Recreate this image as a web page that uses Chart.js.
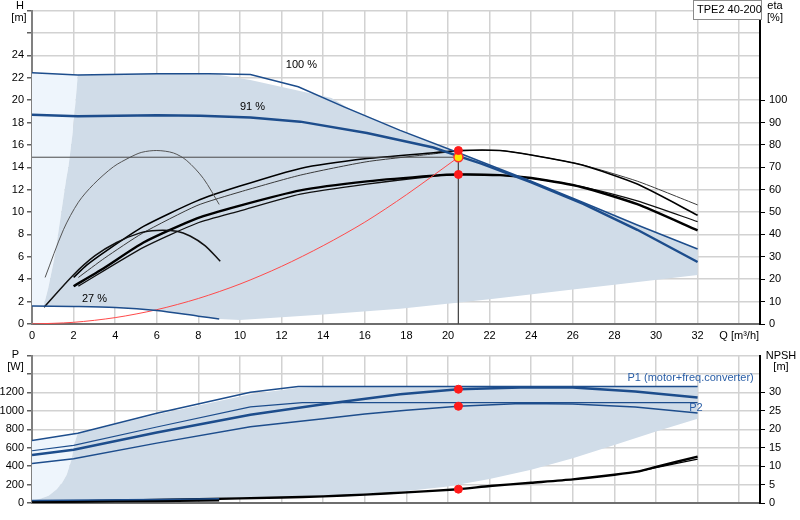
<!DOCTYPE html>
<html lang="en">
<head>
<meta charset="UTF-8">
<title>TPE2 40-200 pump curves</title>
<script src="https://cdn.jsdelivr.net/npm/chart.js"></script>
<style>
  body { margin: 0; background: #fff; }
  #wrap { position: relative; width: 800px; height: 520px; }
  canvas { position: absolute; left: 0; }
  #top { top: 0; }
  #bottom { top: 345px; }
</style>
</head>
<body>
<div id="wrap">
  <canvas id="top" width="800" height="345"></canvas>
  <canvas id="bottom" width="800" height="175"></canvas>
</div>
<script>
// ---- head curves (Q in m3/h, H in m) ----
const qH100 = [0, 2.2, 6, 8.5, 10.5, 12.8, 15, 17.7, 20.5, 21.6, 24, 26.5, 29.1, 32];
const hH100 = [22.45, 22.25, 22.35, 22.35, 22.3, 21.2, 19.4, 17.3, 15.3, 14.5, 12.75, 10.85, 8.85, 6.7];
const qH91 = [0, 2.2, 6, 8.1, 10.5, 12.9, 16.1, 19.3, 20.5, 21.6, 24, 26.5, 29.1, 32];
const hH91 = [18.7, 18.55, 18.65, 18.6, 18.45, 18.08, 17.07, 15.77, 15.0, 14.33, 12.66, 10.73, 8.42, 5.54];
const qH27 = [0, 2, 4, 6, 8, 9];
const hH27 = [1.6, 1.57, 1.48, 1.2, 0.7, 0.45];

// operating range (shaded) and the lighter strip at low flow
const qRange = [0.55, 0.78, 1.1, 1.45, 1.65, 1.75, 1.95, 2.1, 2.2, 6, 8.9, 10.5, 14.4, 15.2, 17.7, 20.5, 21.6, 24, 26.5, 29.1, 32,
                32, 28, 26, 22, 17.7, 14, 10, 9, 8, 6, 4, 2, 0.55];
const hRange = [1.55, 3.2, 6.1, 10.5, 13, 14, 17, 20, 22.25, 22.35, 22.3, 21.8, 20.2, 19.3, 17.3, 15.3, 14.5, 12.75, 10.85, 8.85, 6.7,
                4.38, 3.5, 3.09, 2.22, 1.36, 0.85, 0.35, 0.45, 0.7, 1.2, 1.48, 1.57, 1.55];
const qLow = [0, 0, 2.2, 2.1, 1.95, 1.75, 1.65, 1.45, 1.1, 0.78, 0.55, 0];
const hLow = [1.6, 22.45, 22.25, 20, 17, 14, 13, 10.5, 6.1, 3.2, 1.55, 1.6];

// system curve and duty point
const qSys = [0, 2, 4, 6, 8, 10, 12, 14, 16, 18, 20.5];
const hSys = [0, 0.15, 0.57, 1.28, 2.28, 3.57, 5.15, 7.0, 9.1, 11.55, 14.9];
const dutyQ = 20.5;
const dutyH = 14.9;
const dutyEta = [77.5, 66.8];

// ---- efficiency curves (eta in %) ----
const qEtaA = [0.63, 1.51, 2.23, 2.95, 3.91, 4.72, 5.28, 6.0, 6.8, 7.44, 8.24, 9.0];
const eEtaA = [20.8, 42.1, 54.4, 62.3, 70.2, 74.5, 76.7, 77.5, 76.4, 73, 65, 53.4];
const qEtaB = [0.58, 1.99, 3.03, 4.07, 5.2, 6.0, 6.96, 7.6, 8.33, 9.05];
const eEtaB = [7.5, 21.9, 30.5, 36.4, 40.7, 41.8, 41.4, 39.3, 34.9, 28];
const qEtaC1 = [2.0, 2.63, 3.59, 5.36, 7.93, 10.0, 12.9, 16.1, 19.3, 20.5, 22.5, 24, 26.45, 29.1, 32];
const eEtaC1 = [20.8, 26.3, 32.8, 43.6, 55, 61.6, 69.5, 73.9, 76.5, 77.5, 77.5, 75.5, 71, 62.5, 48.6];
const qEtaC2 = [2.23, 3.5, 5.3, 7.93, 10, 12.9, 16.1, 19.3, 20.5, 22.5, 24, 26.45, 29.1, 32];
const eEtaC2 = [20.8, 29.5, 40.5, 52.9, 59, 66.5, 72.5, 76, 77.3, 77.5, 75.5, 71.1, 63.8, 53.2];
const qEtaD1 = [2.0, 3.43, 5.36, 7.93, 10, 12.9, 16.1, 19.3, 20.5, 22.5, 24, 26.45, 29.1, 32];
const eEtaD1 = [16.9, 24.8, 36.4, 47.2, 52.9, 59.7, 63.7, 66.3, 66.8, 66.5, 65.2, 61.1, 53.5, 41.8];
const qEtaD2 = [2.23, 5.36, 7.93, 10, 12.9, 16.1, 19.3, 20.5, 22.5, 24, 26.45, 29.1, 32];
const eEtaD2 = [16.9, 34.2, 45, 50.5, 58, 62.5, 66, 66.8, 66.5, 65.2, 61.3, 55, 45.7];

// ---- power curves (W) ----
const qP1_100 = [0, 2.2, 6, 10.5, 12.8, 32];
const pP1_100 = [678, 758, 975, 1203, 1265, 1265];
const qP1_91 = [0, 2, 6, 10.5, 14, 17.7, 20.5, 23.5, 26, 29, 32];
const pP1_91 = [521, 578, 765, 959, 1071, 1180, 1235, 1255, 1255, 1210, 1145];
const qP2_100 = [0, 2, 6, 10.5, 13, 32];
const pP2_100 = [567, 626, 825, 1043, 1089, 1089];
const qP2_91 = [0, 2, 6, 10.5, 14, 16, 18, 20.5, 23.5, 26, 29, 32];
const pP2_91 = [428, 480, 650, 828, 915, 967, 1008, 1050, 1081, 1075, 1043, 977];
const qP1_27 = [0, 3, 6, 9];
const pP1_27 = [28, 32, 38, 46];
const qP2_27 = [0, 3, 6, 9];
const pP2_27 = [10, 15, 20, 26];
const dutyP = [1235, 1050];

const qPRange = [0.1, 0.4, 0.8, 1.19, 1.45, 1.67, 1.9, 2.05, 2.2, 6, 10.5, 12.8, 14, 32,
                 32, 30, 28, 26, 24, 22, 20, 18, 16, 14, 12, 10, 9, 6, 3, 0.1];
const pPRange = [30, 45, 80, 150, 220, 306, 470, 650, 758, 960, 1180, 1250, 1262, 1262,
                 915, 775, 630, 485, 360, 260, 180, 130, 100, 80, 62, 50, 45, 38, 32, 30];
const qPLow = [0, 0, 2.2, 2.05, 1.9, 1.67, 1.45, 1.19, 0.8, 0.4, 0.1, 0];
const pPLow = [28, 678, 758, 650, 470, 306, 220, 150, 80, 45, 30, 28];

// ---- NPSH (m) ----
const qNpsh = [0, 4, 8, 12, 14, 16, 18, 20.5, 22, 24, 26, 28, 29.1, 30, 32];
const nNpsh = [0.25, 0.6, 1.0, 1.5, 1.8, 2.27, 2.87, 3.75, 4.6, 5.5, 6.4, 7.66, 8.5, 9.8, 12.6];
const qNpsh2 = [29.1, 30, 32];
const nNpsh2 = [8.5, 9.6, 11.9];
const dutyNpsh = 3.75;

// ---- styling ----
Chart.defaults.font.family = "'Liberation Sans', Arial, Helvetica, sans-serif";
Chart.defaults.font.size = 11;
Chart.defaults.color = '#000';
Chart.defaults.animation = false;

const BLUE = '#1d4d8c';
const SHADE = '#d0dce8';
const LIGHT = '#eef5fc';
const GRID = '#d2d2d2';
const FONT = "11px 'Liberation Sans', Arial, Helvetica, sans-serif";

const pts = (qs, vs) => qs.map((q, i) => ({ x: q, y: vs[i] }));

function curve(qs, vs, color, width, axis, tension) {
  return {
    data: pts(qs, vs), yAxisID: axis, borderColor: color, borderWidth: width,
    pointRadius: 0, fill: false, tension: tension || 0, order: 2
  };
}

function area(qs, vs, color, axis, order) {
  return {
    data: pts(qs, vs), yAxisID: axis, fill: 'shape', backgroundColor: color,
    borderColor: 'rgba(0,0,0,0)', borderWidth: 0, pointRadius: 0, order: order
  };
}

function dots(qs, vs, axis, face, edge) {
  return {
    data: pts(qs, vs), yAxisID: axis, showLine: false, pointRadius: 4,
    pointBackgroundColor: face, pointBorderColor: edge, pointBorderWidth: 1, order: 0
  };
}

function qScale(labels) {
  return {
    type: 'linear', min: 0, max: 35,
    afterBuildTicks: s => {
      const t = [];
      for (let v = 0; v <= 34; v += 2) t.push({ value: v });
      t.push({ value: 35 });
      s.ticks = t;
    },
    afterFit: s => { s.height = labels ? 21 : 17; },
    grid: { color: GRID, lineWidth: 1.5, drawTicks: false },
    border: { color: '#6e6e6e', width: 2 },
    ticks: {
      display: labels, autoSkip: false, maxRotation: 0, padding: 5,
      callback: v => v === 34 ? 'Q [m³/h]' : (v <= 32 ? String(v) : '')
    }
  };
}

function leftScale(max, step, last) {
  return {
    type: 'linear', position: 'left', min: 0, max: max,
    afterFit: s => { s.width = 32; },
    ticks: { stepSize: step, padding: 3, callback: v => v <= last ? String(v) : '' },
    grid: { color: GRID, lineWidth: 1.5, tickColor: '#606060', tickLength: 5 },
    border: { color: '#808080', width: 2 }
  };
}

function rightScale(max, step, last) {
  return {
    type: 'linear', position: 'right', min: 0, max: max,
    afterFit: s => { s.width = 40; },
    ticks: { stepSize: step, padding: 4, callback: v => v <= last ? String(v) : '' },
    grid: {
      drawOnChartArea: false, tickLength: 5,
      color: c => (c.tick && c.tick.value > last) ? 'rgba(0,0,0,0)' : '#000'
    },
    border: { color: '#000', width: 2 }
  };
}

// text labels drawn on top of the plot
function textPlugin(items) {
  return {
    id: 'texts',
    afterDraw(chart) {
      const ctx = chart.ctx;
      ctx.save();
      ctx.font = FONT;
      ctx.textBaseline = 'middle';
      items.forEach(it => {
        let x = it.px, y = it.py;
        if (it.q !== undefined) {
          x = chart.scales.x.getPixelForValue(it.q);
          y = chart.scales[it.axis].getPixelForValue(it.v);
        }
        if (it.box) {
          ctx.fillStyle = '#fff';
          ctx.fillRect(it.box[0], it.box[1], it.box[2], it.box[3]);
          ctx.strokeStyle = '#8a8a8a';
          ctx.lineWidth = 1;
          ctx.strokeRect(it.box[0] + 0.5, it.box[1] + 0.5, it.box[2], it.box[3]);
        }
        ctx.fillStyle = it.color || '#000';
        ctx.textAlign = it.align || 'left';
        ctx.fillText(it.text, x, y);
      });
      ctx.restore();
    }
  };
}

const commonPlugins = { legend: { display: false }, tooltip: { enabled: false } };

// ---- top chart: H and eta ----
new Chart(document.getElementById('top'), {
  type: 'line',
  data: {
    datasets: [
      area(qLow, hLow, LIGHT, 'y', 11),
      area(qRange, hRange, SHADE, 'y', 10),
      curve(qH100, hH100, BLUE, 1.5, 'y'),
      curve(qH91, hH91, BLUE, 2.5, 'y'),
      curve(qH27, hH27, BLUE, 1.5, 'y', 0.3),
      curve([0, dutyQ, dutyQ], [dutyH, dutyH, 0], '#4a4a4a', 1, 'y'),
      curve(qSys, hSys, '#ff4a4a', 1, 'y', 0.3),
      curve(qEtaA, eEtaA, '#555', 1, 'eta', 0.3),
      curve(qEtaB, eEtaB, '#111', 1.5, 'eta', 0.3),
      curve(qEtaC1, eEtaC1, '#000', 1.6, 'eta', 0.2),
      curve(qEtaC2, eEtaC2, '#3a3a3a', 1, 'eta', 0.2),
      curve(qEtaD1, eEtaD1, '#000', 2.4, 'eta', 0.2),
      curve(qEtaD2, eEtaD2, '#111', 1.3, 'eta', 0.2),
      dots([dutyQ, dutyQ], dutyEta, 'eta', '#ff1a1a', '#ff1a1a'),
      Object.assign(dots([dutyQ], [dutyH], 'y', '#ffe600', '#ff3030'), { pointRadius: 4.5, pointBorderWidth: 1.5 })
    ]
  },
  options: {
    responsive: false,
    layout: { padding: { top: 1, left: 0, right: 0, bottom: 0 } },
    scales: {
      x: qScale(true),
      y: leftScale(28, 2, 24),
      eta: rightScale(140, 10, 100)
    },
    plugins: commonPlugins
  },
  plugins: [textPlugin([
    { text: 'H', px: 20, py: 5.5, align: 'center' },
    { text: '[m]', px: 19, py: 17.5, align: 'center' },
    { text: 'eta', px: 775, py: 5.5, align: 'center' },
    { text: '[%]', px: 775, py: 17.5, align: 'center' },
    { text: 'TPE2 40-200', px: 697, py: 9.5, box: [693, 0, 68, 19] },
    { text: '100 %', q: 12.2, v: 23.1, axis: 'y' },
    { text: '91 %', q: 10.0, v: 19.35, axis: 'y' },
    { text: '27 %', q: 2.4, v: 2.25, axis: 'y' }
  ])]
});

// ---- bottom chart: P and NPSH ----
new Chart(document.getElementById('bottom'), {
  type: 'line',
  data: {
    datasets: [
      area(qPLow, pPLow, LIGHT, 'y', 11),
      area(qPRange, pPRange, SHADE, 'y', 10),
      curve(qP1_100, pP1_100, BLUE, 1.5, 'y'),
      curve(qP1_91, pP1_91, BLUE, 2.5, 'y'),
      curve(qP2_100, pP2_100, BLUE, 1.2, 'y'),
      curve(qP2_91, pP2_91, BLUE, 1.5, 'y'),
      curve(qP1_27, pP1_27, BLUE, 1.5, 'y'),
      curve(qP2_27, pP2_27, '#000', 2, 'y'),
      curve(qNpsh, nNpsh, '#000', 2.4, 'npsh', 0.2),
      curve(qNpsh2, nNpsh2, '#000', 1.2, 'npsh'),
      dots([dutyQ, dutyQ], dutyP, 'y', '#ff1a1a', '#ff1a1a'),
      dots([dutyQ], [dutyNpsh], 'npsh', '#ff1a1a', '#ff1a1a')
    ]
  },
  options: {
    responsive: false,
    layout: { padding: { top: 5, left: 0, right: 0, bottom: 0 } },
    scales: {
      x: qScale(false),
      y: leftScale(1600, 200, 1200),
      npsh: rightScale(40, 5, 30)
    },
    plugins: commonPlugins
  },
  plugins: [textPlugin([
    { text: 'P', px: 15.5, py: 10, align: 'center' },
    { text: '[W]', px: 15.5, py: 22, align: 'center' },
    { text: 'NPSH', px: 781, py: 11, align: 'center' },
    { text: '[m]', px: 781, py: 22, align: 'center' },
    { text: 'P1 (motor+freq.converter)', q: 34.7, v: 1355, axis: 'y', align: 'right', color: '#2a5ea6' },
    { text: 'P2', q: 31.6, v: 1030, axis: 'y', color: '#2a5ea6' }
  ])]
});
</script>
</body>
</html>
